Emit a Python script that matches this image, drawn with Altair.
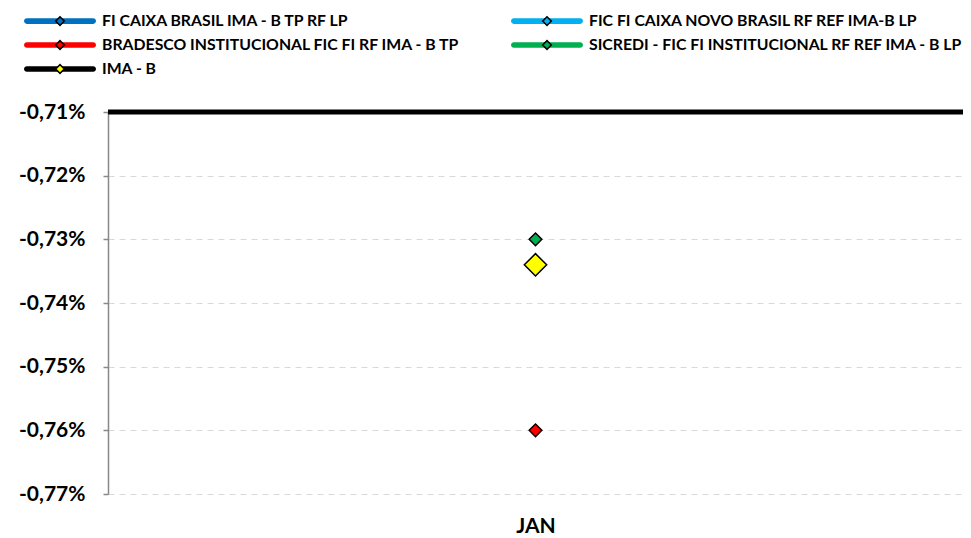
import altair as alt
import pandas as pd

months = ["JAN"]
# legend order (column-major in a 2-column legend grid)
series = [
    "FI CAIXA BRASIL IMA - B TP RF LP",
    "BRADESCO INSTITUCIONAL FIC FI RF IMA - B TP",
    "IMA - B",
    "FIC FI CAIXA NOVO BRASIL RF REF IMA-B LP",
    "SICREDI - FIC FI INSTITUCIONAL RF REF IMA - B LP",
]
line_colors = ["#0070C0", "#FF0000", "#000000", "#00B0F0", "#00B050"]
marker_colors = ["#0070C0", "#FF0000", "#FFFF00", "#00B0F0", "#00B050"]
# values in % for JAN (None = not visible)
values = [None, -0.76, -0.734, None, -0.73]
top_line = [-0.71]
y_ticks = [-0.77, -0.76, -0.75, -0.74, -0.73, -0.72, -0.71]

series_p = [s + " " for s in series]

rows = []
for s, sp, v in zip(series, series_p, values):
    if v is not None:
        rows.append({"month": months[0], "value": v, "serie_l": s, "serie_p": sp, "big": s == "IMA - B"})
df = pd.DataFrame(rows)
df_top = pd.DataFrame({"value": top_line})

FONT = "Lato"
yscale = alt.Scale(domain=[y_ticks[0], y_ticks[-1]], nice=False, zero=False)
xscale = alt.Scale(domain=months)

BOX = "M-5.14,-0.4M5.14,0.4"
LINE_PATH = "M-4.74,-0.4H4.74A0.4,0.4 0 0 1 4.74,0.4H-4.74A0.4,0.4 0 0 1 -4.74,-0.4Z"
DIAMOND_PATH = BOX + "M-0.62,0L0,-0.62L0.62,0L0,0.62Z"

legend_common = dict(
    orient="none", legendX=-56, legendY=-99, columns=2, title=None,
    symbolSize=196, symbolStrokeWidth=1.5, symbolOpacity=1,
    labelFont=FONT, labelFontWeight="bold", labelFontSize=15.8,
    labelLimit=600, labelOffset=34, rowPadding=8, columnPadding=47,
)

line_legend = alt.Legend(
    symbolType=LINE_PATH, symbolStrokeColor="transparent", zindex=1,
    labelColor="black", **legend_common
)
diamond_legend = alt.Legend(
    symbolType=DIAMOND_PATH, symbolStrokeColor="black", zindex=2,
    labelColor="transparent", labelExpr="trim(datum.label)", **legend_common
)

base_x = alt.X("month:N", scale=xscale, sort=months, axis=alt.Axis(
    title=None, labelAngle=0, domain=False, ticks=False, grid=False,
    labelFont=FONT, labelFontWeight="bold", labelFontSize=21, labelColor="black",
    labelPadding=21,
))

top = alt.Chart(df_top).mark_rule(color="black", strokeWidth=5).encode(
    y=alt.Y("value:Q", scale=yscale, axis=alt.Axis(
        title=None, values=y_ticks, domainColor="#888888", domainWidth=1.5,
        tickColor="#888888", tickSize=5, tickWidth=1.5,
        grid=True, gridColor="#d9d9d9", gridDash=[6, 5], gridWidth=1.2,
        labelFont=FONT, labelFontWeight="bold", labelFontSize=21, labelColor="black",
        labelPadding=18,
        labelExpr="replace(replace(format(datum.value, '.2f'), '.', ','), '\u2212', '-') + '%'",
    ))
)

# legend-only layer: series line colours
legend_lines = alt.Chart(df).mark_square(filled=True, opacity=1).encode(
    x=base_x,
    y=alt.Y("value:Q", scale=yscale),
    color=alt.Color("serie_l:N", scale=alt.Scale(domain=series, range=line_colors), legend=line_legend),
).transform_filter("false")

points = alt.Chart(df).mark_point(shape="diamond", filled=True, stroke="black", strokeWidth=1.5, opacity=1).encode(
    x=base_x,
    y=alt.Y("value:Q", scale=yscale),
    fill=alt.Fill("serie_p:N", scale=alt.Scale(domain=series_p, range=marker_colors), legend=diamond_legend),
    size=alt.condition("datum.big", alt.value(500), alt.value(160)),
)

chart = alt.layer(top, legend_lines, points).properties(
    width=855, height=382,
    autosize=alt.AutoSizeParams(type="none"),
    padding={"left": 100, "top": 104, "right": 0, "bottom": 46},
).configure_view(strokeWidth=0)

chart.save("out.html", embed_options={"renderer": "svg", "actions": False})
